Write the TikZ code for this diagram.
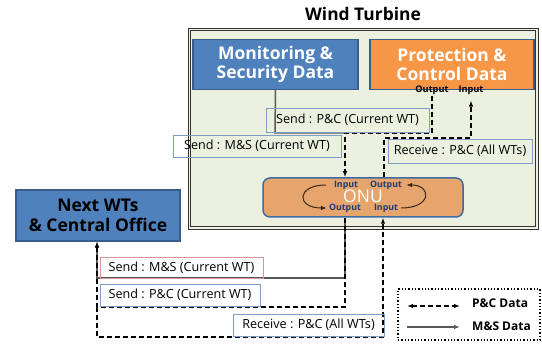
\documentclass[tikz,border=0pt]{standalone}
\usepackage{fontspec}
\setmainfont{Open Sans}
\usetikzlibrary{arrows.meta,calc}
\definecolor{bgg}{HTML}{EBF1DE}
\definecolor{blueF}{HTML}{4F81BD}
\definecolor{blueD}{HTML}{385D8A}
\definecolor{orangeF}{HTML}{F79646}
\definecolor{onuF}{HTML}{E6A56C}
\definecolor{onuB}{HTML}{3F6BA5}
\definecolor{lblB}{HTML}{7F9CC4}
\definecolor{lblR}{HTML}{D99694}
\definecolor{msgray}{HTML}{595959}
\definecolor{onuT}{HTML}{1F3B73}
\begin{document}
\begin{tikzpicture}[x=1pt,y=-1pt,
  every node/.style={inner sep=0pt},
  wtbox/.style={draw=black!80, line width=0.8pt, fill=bgg},
  tbox/.style={draw=blueD, line width=1.2pt, font=\bfseries\fontsize{17.5}{19.5}\selectfont, align=center, text=white},
  portlbl/.style={font=\bfseries\fontsize{9.2}{10}\selectfont},
  onubox/.style={draw=onuB, line width=1.5pt, fill=onuF, rounded corners=7pt},
  onutxt/.style={text=white, font=\fontsize{17.5}{19}\selectfont, text height=12.5pt, text depth=0pt},
  onulbl/.style={font=\bfseries\fontsize{8.8}{10}\selectfont, text=onuT},
  lbl/.style={draw=lblB, line width=0.8pt, font=\fontsize{12.6}{14}\selectfont},
  msline/.style={draw=msgray, line width=1.5pt},
  pcline/.style={draw=black, line width=1.5pt, dash pattern=on 5pt off 3pt},
  curv/.style={draw=black!70!brown, line width=1pt},
  tip/.style={-{Latex[length=6pt,width=4.5pt]}}
]
\useasboundingbox (0,0) rectangle (542,345);

\node[font=\bfseries\fontsize{17.4}{20}\selectfont] (title) at (363,14) {Wind Turbine};
\node[wtbox, minimum width=350pt, minimum height=201pt] (wt) at (363,128.5) {};
\node[draw=black!80, line width=0.8pt, minimum width=345pt, minimum height=196pt] (wtin) at (wt.center) {};

\node[tbox, fill=blueF, minimum width=165pt, minimum height=50pt] (ms) at (275.5,64.5) {Monitoring \&\\Security Data};
\node[tbox, fill=orangeF, minimum width=164pt, minimum height=50pt] (pc) at (452,64.5) {Protection \&\\Control Data};
\node[portlbl] (pout) at (432,90) {Output};
\node[portlbl] (pin) at (471,90) {Input};

\node[onubox, minimum width=200pt, minimum height=39pt] (onu) at (363,197.5) {};
\node[onutxt] (onut) at (363,196.5) {ONU};
\node[onulbl] (i1) at (346,185) {Input};
\node[onulbl] (o1) at (386,185) {Output};
\node[onulbl] (o2) at (345,208) {Output};
\node[onulbl] (i2) at (386,208) {Input};
\draw[curv, tip] ([xshift=-8pt]i1.west) .. controls (296,185) and (296,208) .. ([xshift=-2pt]o2.west);
\draw[curv, tip] ([xshift=3pt]i2.east) .. controls (432,208) and (432,185) .. ([xshift=4pt]o1.east);

\node[tbox, fill=blueF, text=black, minimum width=164pt, minimum height=51pt] (next) at (98,215.5) {Next WTs\\\& Central Office};

% upper connectors
\coordinate (c1) at (275,133);
\coordinate (c2) at (345,133);
\coordinate (c3) at (432,133);
\coordinate (r1) at (384,138);
\coordinate (r2) at (471,138);
\draw[msline] (ms.south) -- (c1) -- (c2);
\draw[pcline, tip] ([yshift=-1pt]pout.south) -- (c3) -- (c2) -- (onu.north -| c2);
\draw[pcline, tip] (onu.north -| r1) -- (r1) -- (r2) -- ([yshift=-6pt]pin.south);

% lower connectors
\coordinate (b1) at (345,278);
\coordinate (b2) at (97,278);
\coordinate (b3) at (345,307);
\coordinate (b4) at (97,307);
\coordinate (b5) at (97,337);
\coordinate (b6) at (383,337);
\draw[msline, tip] (onu.south -| b1) -- (b1) -- (b2) -- (next.south -| b2);
\draw[pcline, tip] (onu.south -| b3) -- (b3) -- (b4) -- (next.south -| b4);
\draw[pcline, tip] (b4) -- (b5) -- (b6) -- (onu.south -| b6);

% labels
\node[lbl, minimum width=163pt, minimum height=24pt] (l1) at (347.5,120) {Send : P\&C (Current WT)};
\node[lbl, minimum width=168pt, minimum height=22pt] (l2) at (257,146) {Send : M\&S (Current WT)};
\node[lbl, minimum width=144pt, minimum height=24pt] (l3) at (460,151) {Receive : P\&C (All WTs)};
\node[lbl, draw=lblR, minimum width=163pt, minimum height=21pt] (l4) at (181.5,267.5) {Send : M\&S (Current WT)};
\node[lbl, minimum width=160pt, minimum height=22pt] (l5) at (180,295) {Send : P\&C (Current WT)};
\node[lbl, minimum width=151pt, minimum height=22pt] (l6) at (308.5,325) {Receive : P\&C (All WTs)};

% legend
\node[draw=black, dotted, line width=1.3pt, minimum width=142pt, minimum height=51pt] (leg) at (469,314.5) {};
\node[anchor=west, font=\bfseries\fontsize{12}{13}\selectfont] (lg1) at (472,303) {P\&C Data};
\node[anchor=west, font=\bfseries\fontsize{12}{13}\selectfont] (lg2) at (472,326) {M\&S Data};
\coordinate (la1) at (407,306);
\coordinate (la2) at (460,306);
\coordinate (lb1) at (407,327);
\coordinate (lb2) at (460,327);
\draw[pcline, {Latex[length=6pt,width=4.5pt]}-{Latex[length=6pt,width=4.5pt]}] (la1) -- (la2);
\draw[msline, tip] (lb1) -- (lb2);
\end{tikzpicture}
\end{document}
